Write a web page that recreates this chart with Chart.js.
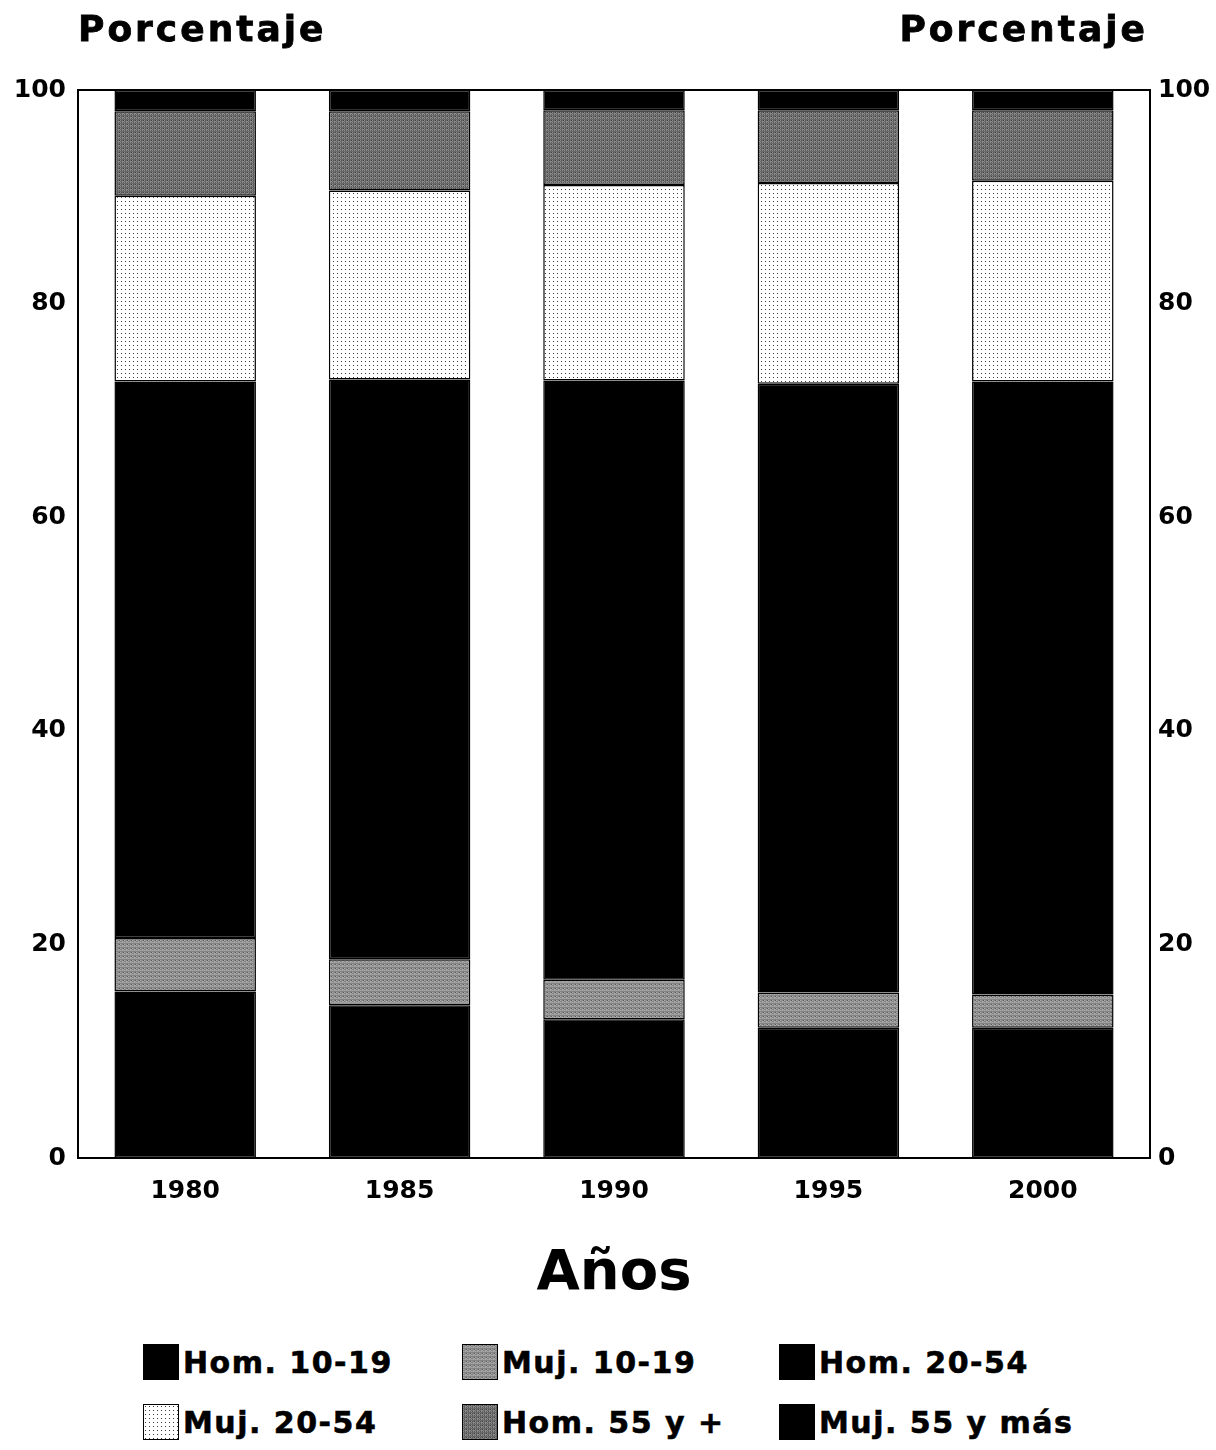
<!DOCTYPE html>
<html lang="es">
<head>
    <meta charset="UTF-8">
    <title>Porcentaje por años</title>
    <script src="https://cdn.jsdelivr.net/npm/chart.js"></script>
    <style>
        body { margin: 0; background: #fff; }
        .wrap { position: relative; width: 1216px; height: 1450px; font-family: "DejaVu Sans", sans-serif; font-weight: bold; color: #000; }
        .ytitle { position: absolute; top: 8px; font-size: 36px; letter-spacing: 3px; -webkit-text-stroke: 0.8px #000; }
        #chart-box { position: absolute; left: 0; top: 0; width: 1216px; height: 1320px; }
        #legend { position: absolute; left: 0; top: 1344px; width: 1216px; }
        .item { position: absolute; display: flex; align-items: center; font-size: 30px; letter-spacing: 1.5px; white-space: nowrap; -webkit-text-stroke: 0.6px #000; }
        .item canvas { border: 1px solid #000; margin-right: 4px; }
    </style>
</head>
<body>
<div class="wrap">
    <div id="chart-box"><canvas id="chart"></canvas></div>
    <div class="ytitle" style="left:78px">Porcentaje</div>
    <div class="ytitle" style="right:68px">Porcentaje</div>
    <div id="legend"></div>
</div>
<script>
// data (percent of total, each year sums to 100)
const years = ['1980', '1985', '1990', '1995', '2000'];
const hom1019 = [15.6, 14.3, 13.0, 12.2, 12.2];
const muj1019 = [5.0, 4.3, 3.7, 3.3, 3.1];
const hom2054 = [52.1, 54.3, 56.1, 57.0, 57.4];
const muj2054 = [17.4, 17.7, 18.3, 18.8, 18.8];
const hom55 = [7.9, 7.4, 7.0, 6.8, 6.6];
const muj55 = [2.0, 2.0, 1.9, 1.9, 1.9];
const yTicks = [0, 20, 40, 60, 80, 100];

// small tiles for the shaded fills
function makeTile(kind) {
    const c = document.createElement('canvas');
    const ctx = c.getContext('2d');
    if (kind === 'dots') {
        c.width = 4; c.height = 4;
        ctx.fillStyle = '#fff';
        ctx.fillRect(0, 0, 4, 4);
        ctx.fillStyle = '#3a3a3a';
        ctx.fillRect(1, 1, 1, 1);
    } else {
        const a = kind === 'light' ? ['#a8a8a8', '#5a5a5a', '#848484', '#969696'] : ['#8c8c8c', '#444', '#6a6a6a', '#585858'];
        c.width = 4; c.height = 4;
        for (let i = 0; i < 4; i++) {
            for (let j = 0; j < 4; j++) {
                ctx.fillStyle = a[(i * 3 + j * 2 + (i & j)) % 4];
                ctx.fillRect(i, j, 1, 1);
            }
        }
    }
    return c;
}
const mainCtx = document.getElementById('chart').getContext('2d');
const fills = {
    black: '#000',
    light: mainCtx.createPattern(makeTile('light'), 'repeat'),
    dark: mainCtx.createPattern(makeTile('dark'), 'repeat'),
    dots: mainCtx.createPattern(makeTile('dots'), 'repeat')
};

const series = [
    { label: 'Hom. 10-19', data: hom1019, fill: 'black' },
    { label: 'Muj. 10-19', data: muj1019, fill: 'light' },
    { label: 'Hom. 20-54', data: hom2054, fill: 'black' },
    { label: 'Muj. 20-54', data: muj2054, fill: 'dots' },
    { label: 'Hom. 55 y +', data: hom55, fill: 'dark' },
    { label: 'Muj. 55 y más', data: muj55, fill: 'black' }
];

const tickFont = { family: 'DejaVu Sans', size: 25, weight: 'bold' };

const framePlugin = {
    id: 'frame',
    afterDraw(chart) {
        const a = chart.chartArea;
        const ctx = chart.ctx;
        ctx.save();
        ctx.strokeStyle = '#000';
        ctx.lineWidth = 2;
        ctx.strokeRect(a.left, a.top, a.right - a.left, a.bottom - a.top);
        ctx.restore();
    }
};

const chart = new Chart(mainCtx, {
    type: 'bar',
    data: {
        labels: years,
        datasets: series.map(s => ({
            label: s.label,
            data: s.data,
            backgroundColor: fills[s.fill],
            borderColor: '#000',
            borderWidth: 1.5,
            borderSkipped: false,
            categoryPercentage: 1,
            barPercentage: 0.66
        }))
    },
    options: {
        responsive: true,
        maintainAspectRatio: false,
        animation: false,
        layout: { padding: { top: 90, left: 0, right: 0, bottom: 0 } },
        plugins: { legend: { display: false }, tooltip: { enabled: false } },
        scales: {
            x: {
                stacked: true,
                grid: { display: false, drawTicks: false },
                border: { display: false },
                ticks: { color: '#000', font: tickFont, padding: 18 },
                title: {
                    display: true, text: 'Años', color: '#000',
                    font: { family: 'DejaVu Sans', size: 56, weight: 'bold' },
                    padding: { top: 0, bottom: 12 }
                },
                afterFit(scale) { scale.height = 162; }
            },
            y: {
                stacked: true,
                position: 'left',
                min: 0, max: 100,
                grid: { display: false, drawTicks: false },
                border: { display: false },
                afterBuildTicks(scale) { scale.ticks = yTicks.map(v => ({ value: v })); },
                ticks: { color: '#000', font: tickFont, padding: 12 },
                afterFit(scale) { scale.width = 78; }
            },
            y2: {
                position: 'right',
                min: 0, max: 100,
                grid: { display: false, drawTicks: false },
                border: { display: false },
                afterBuildTicks(scale) { scale.ticks = yTicks.map(v => ({ value: v })); },
                ticks: { color: '#000', font: tickFont, padding: 8 },
                afterFit(scale) { scale.width = 66; }
            }
        }
    },
    plugins: [framePlugin]
});

// legend: 3 columns, 2 rows
const legendBox = document.getElementById('legend');
const colX = [143, 462, 779];
series.forEach((s, i) => {
    const div = document.createElement('div');
    div.className = 'item';
    div.style.left = colX[i % 3] + 'px';
    div.style.top = (Math.floor(i / 3) * 60) + 'px';
    const sw = document.createElement('canvas');
    sw.width = 34; sw.height = 34;
    const sctx = sw.getContext('2d');
    sctx.fillStyle = s.fill === 'black' ? '#000' : sctx.createPattern(makeTile(s.fill), 'repeat');
    sctx.fillRect(0, 0, 34, 34);
    div.appendChild(sw);
    div.appendChild(document.createTextNode(s.label));
    legendBox.appendChild(div);
});
</script>
</body>
</html>
